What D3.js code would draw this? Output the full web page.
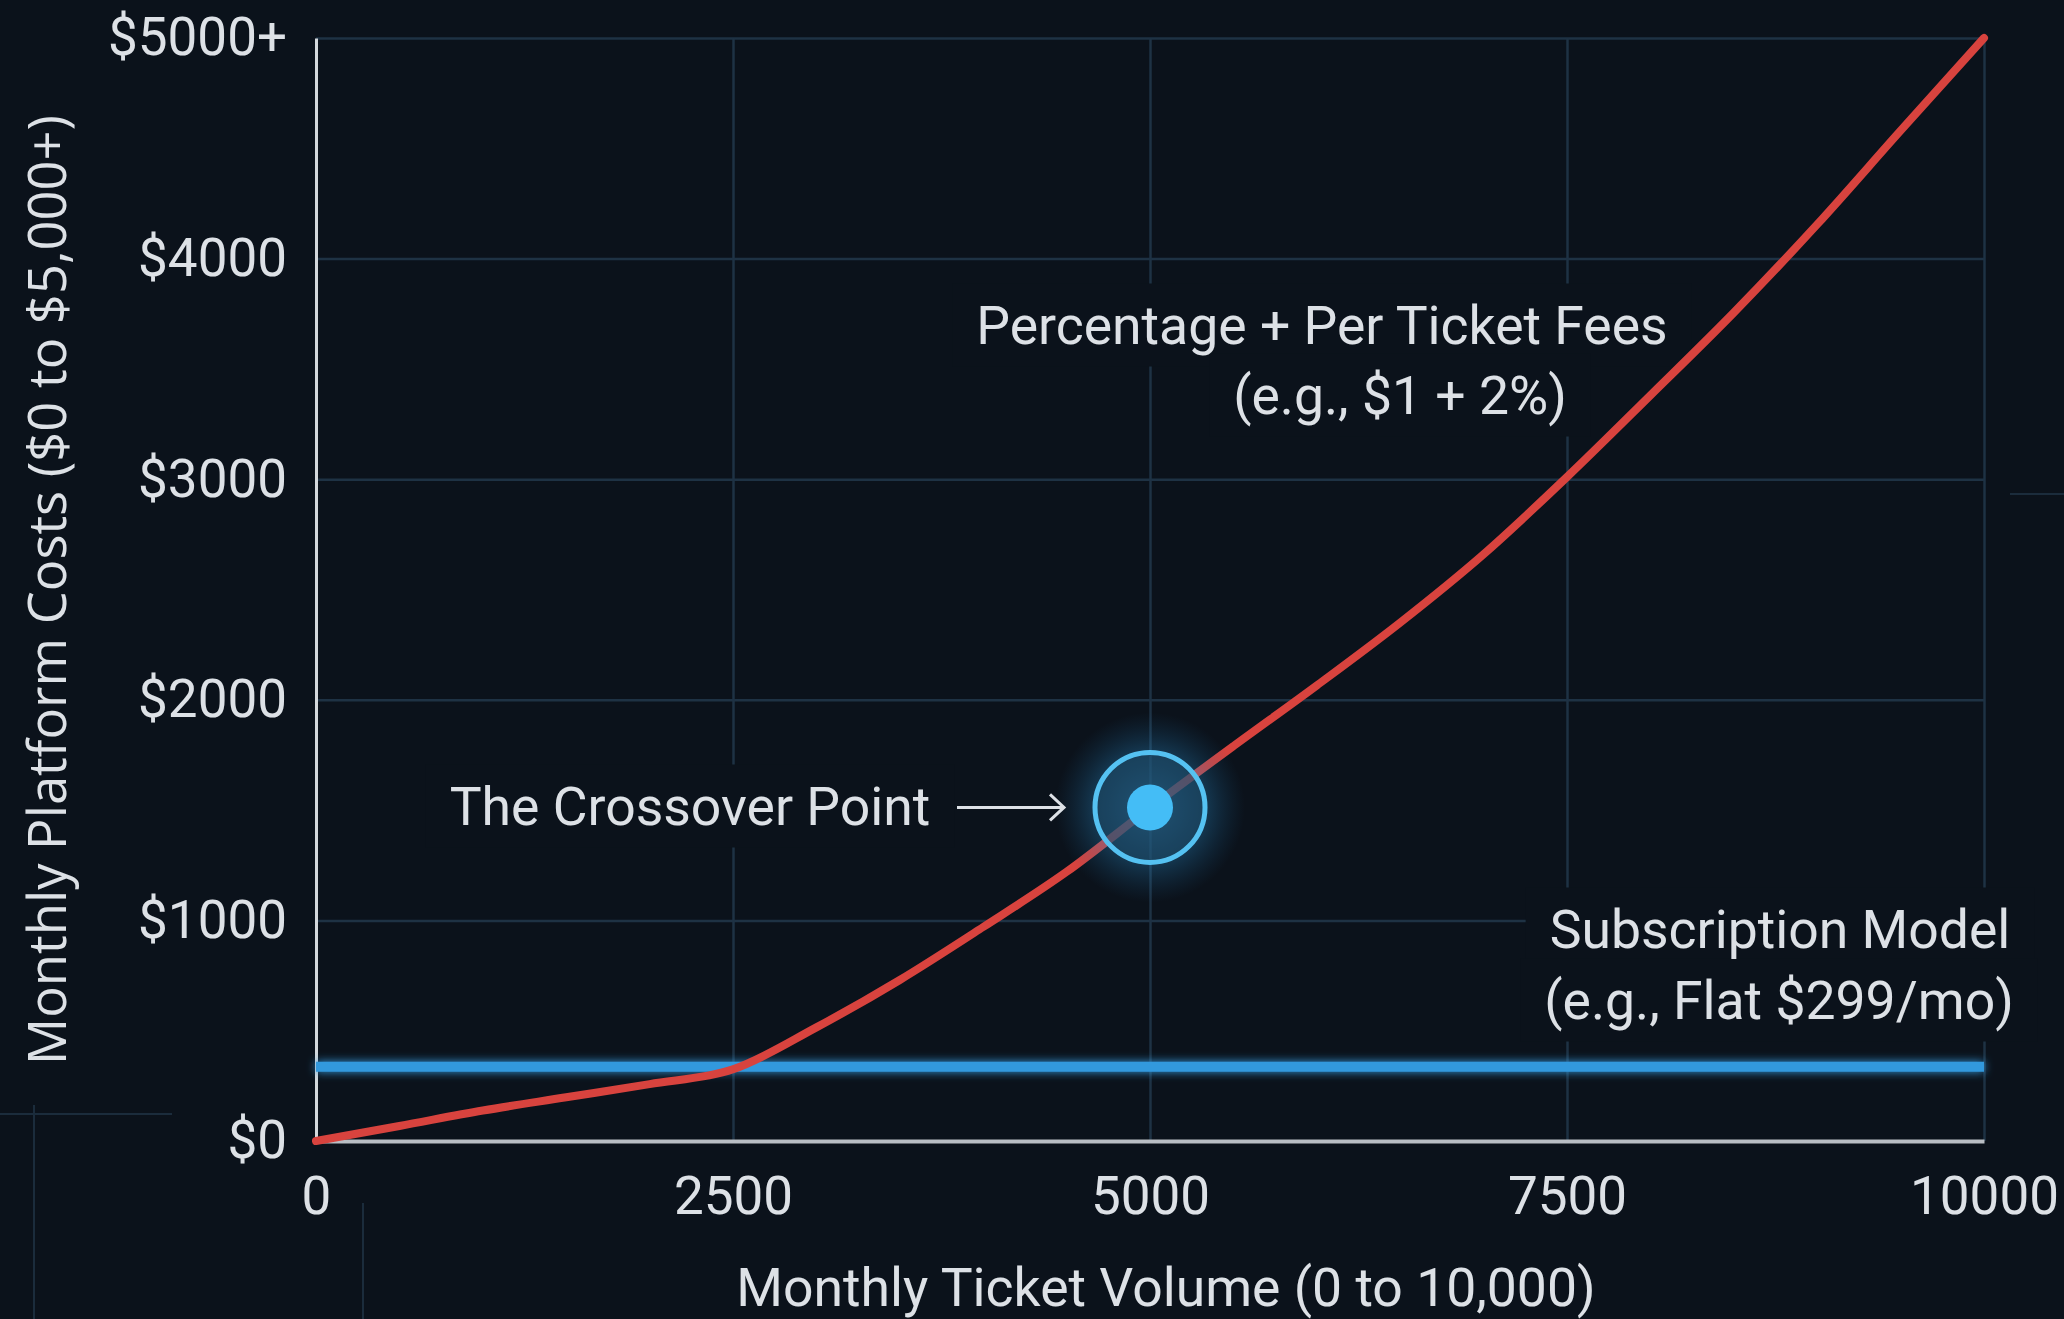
<!DOCTYPE html>
<html>
<head>
<meta charset="utf-8">
<script src="https://cdn.jsdelivr.net/npm/d3@7"></script>
<style>
  html, body { margin: 0; padding: 0; background: #0b121b; }
  svg { display: block; }
  text { font-family: Roboto, "Liberation Sans", sans-serif; fill: #dde1e6; }
</style>
</head>
<body>
<svg id="chart"></svg>
<script>
// ticket volume (x) and fee based cost (y)
const volumes  = [0, 500, 1000, 1500, 2000, 2500, 3000, 3500, 4000, 4500, 5000,
                  5500, 6000, 6500, 7000, 7500, 8000, 8500, 9000, 9500, 10000];
const feeCosts = [0, 68, 138, 198, 258, 325, 515, 730, 970, 1220, 1510,
                  1790, 2065, 2350, 2660, 3010, 3380, 3755, 4155, 4580, 5000];
const subscriptionCost = 337;
const crossoverPoint = { volume: 5000, cost: 1512 };

const xTicks = [0, 2500, 5000, 7500, 10000];
const xTickLabels = ["0", "2500", "5000", "7500", "10000"];
const yTicks = [0, 1000, 2000, 3000, 4000, 5000];
const yTickLabels = ["$0", "$1000", "$2000", "$3000", "$4000", "$5000+"];

const width = 2064, height = 1319;
const margin = { top: 38, right: 80, bottom: 178, left: 316 };
const plotW = width - margin.left - margin.right;
const plotH = height - margin.top - margin.bottom;

const svg = d3.select("#chart").attr("width", width).attr("height", height);

const defs = svg.append("defs");
const glow = defs.append("filter").attr("id", "glow")
  .attr("filterUnits", "userSpaceOnUse")
  .attr("x", -200).attr("y", -200).attr("width", width + 400).attr("height", height + 400);
glow.append("feGaussianBlur").attr("stdDeviation", 5).attr("result", "b");
const gm = glow.append("feMerge");
gm.append("feMergeNode").attr("in", "b");
gm.append("feMergeNode").attr("in", "SourceGraphic");

const halo = defs.append("radialGradient").attr("id", "halo");
halo.append("stop").attr("offset", "0%").attr("stop-color", "#3aa8e8").attr("stop-opacity", 0.55);
halo.append("stop").attr("offset", "55%").attr("stop-color", "#2a8cc8").attr("stop-opacity", 0.35);
halo.append("stop").attr("offset", "100%").attr("stop-color", "#1a6090").attr("stop-opacity", 0);

// faint decorative lines behind the chart
const deco = svg.append("g").attr("stroke", "#1b2c3c").attr("stroke-width", 2);
deco.append("line").attr("x1", 0).attr("x2", 172).attr("y1", 1114).attr("y2", 1114);
deco.append("line").attr("x1", 34).attr("x2", 34).attr("y1", 1105).attr("y2", height);
deco.append("line").attr("x1", 363).attr("x2", 363).attr("y1", 1203).attr("y2", height);
deco.append("line").attr("x1", 2010).attr("x2", width).attr("y1", 494).attr("y2", 494);

const g = svg.append("g").attr("transform", `translate(${margin.left},${margin.top})`);

const x = d3.scaleLinear().domain([0, 10000]).range([0, plotW]);
const y = d3.scaleLinear().domain([0, 5000]).range([plotH, 0]);

// grid
const gridG = g.append("g");
gridG.append("g")
  .call(d3.axisLeft(y).tickValues(yTicks.slice(1)).tickSize(-plotW).tickFormat(""))
  .call(s => s.select(".domain").remove())
  .call(s => s.selectAll("line").attr("stroke", "#1e3244").attr("stroke-width", 2.5));
gridG.append("g")
  .call(d3.axisTop(x).tickValues(xTicks.slice(1)).tickSize(-plotH).tickFormat(""))
  .call(s => s.select(".domain").remove())
  .call(s => s.selectAll("line").attr("stroke", "#1e3244").attr("stroke-width", 2.5));

const maskG = g.append("g");

// axes
g.append("g")
  .call(d3.axisLeft(y).tickValues(yTicks).tickSize(0).tickPadding(29)
    .tickFormat((d, i) => yTickLabels[i]))
  .call(s => s.select(".domain").attr("stroke", "#d4d8dc").attr("stroke-width", 3))
  .call(s => s.selectAll("text").attr("font-size", 53).attr("fill", "#dde1e6"));
g.append("g")
  .attr("transform", `translate(0,${plotH})`)
  .call(d3.axisBottom(x).tickValues(xTicks).tickSize(0).tickPadding(35)
    .tickFormat((d, i) => xTickLabels[i]))
  .call(s => s.select(".domain").attr("stroke", "#b9bec4").attr("stroke-width", 4))
  .call(s => s.selectAll("text").attr("font-size", 53).attr("fill", "#dde1e6"));

// subscription line
g.append("line")
  .attr("x1", x(0)).attr("x2", x(10000))
  .attr("y1", y(subscriptionCost)).attr("y2", y(subscriptionCost))
  .attr("stroke", "#3299dd").attr("stroke-width", 10)
  .attr("filter", "url(#glow)");

// fee curve
const line = d3.line().x((d, i) => x(volumes[i])).y(d => y(d)).curve(d3.curveMonotoneX);
g.append("path")
  .datum(feeCosts)
  .attr("d", line)
  .attr("fill", "none")
  .attr("stroke", "#d8433e")
  .attr("stroke-width", 8)
  .attr("stroke-linecap", "round");

// crossover marker
const cx = x(crossoverPoint.volume), cy = y(crossoverPoint.cost);
const mk = g.append("g").attr("transform", `translate(${cx},${cy})`);
mk.append("circle").attr("r", 95).attr("fill", "url(#halo)");
mk.append("circle").attr("r", 55).attr("fill", "#1d4660").attr("fill-opacity", 0.55)
  .attr("stroke", "#55c2f2").attr("stroke-width", 5);
mk.append("circle").attr("r", 23).attr("fill", "#44bdf6");

// arrow
const ax2 = cx - 86, ax1 = cx - 193;
const arrow = g.append("g").attr("stroke", "#dde1e6").attr("stroke-width", 3).attr("fill", "none");
arrow.append("line").attr("x1", ax1).attr("x2", ax2).attr("y1", cy).attr("y2", cy);
arrow.append("path").attr("d", `M${ax2 - 14},${cy - 13}L${ax2},${cy}L${ax2 - 14},${cy + 13}`);

// annotations (positions inside the plot group)
const labels = [
  { text: "Percentage + Per Ticket Fees", x: 1006, y: 287 },
  { text: "(e.g., $1 + 2%)",              x: 1084, y: 357 },
  { text: "The Crossover Point",          x: 374,  y: 768 },
  { text: "Subscription Model",           x: 1464, y: 891 },
  { text: "(e.g., Flat $299/mo)",         x: 1463, y: 962 }
];
const textG = g.append("g");
labels.forEach(l => {
  const t = textG.append("text")
    .attr("x", l.x).attr("y", l.y)
    .attr("text-anchor", "middle").attr("dominant-baseline", "central")
    .attr("font-size", 53.5).text(l.text);
  const b = t.node().getBBox();
  maskG.append("rect")
    .attr("x", b.x - 24).attr("y", b.y - 10)
    .attr("width", b.width + 48).attr("height", b.height + 20)
    .attr("fill", "#0b121b");
});

// axis titles
svg.append("text")
  .attr("x", 1166).attr("y", 1287)
  .attr("text-anchor", "middle").attr("dominant-baseline", "central")
  .attr("font-size", 53.5)
  .text("Monthly Ticket Volume (0 to 10,000)");
svg.append("text")
  .attr("transform", "translate(45,590) rotate(-90)")
  .attr("text-anchor", "middle").attr("dominant-baseline", "central")
  .style("font-family", "'Open Sans', sans-serif")
  .style("font-size", "52.5px")
  .text("Monthly Platform Costs ($0 to $5,000+)");
</script>
</body>
</html>
